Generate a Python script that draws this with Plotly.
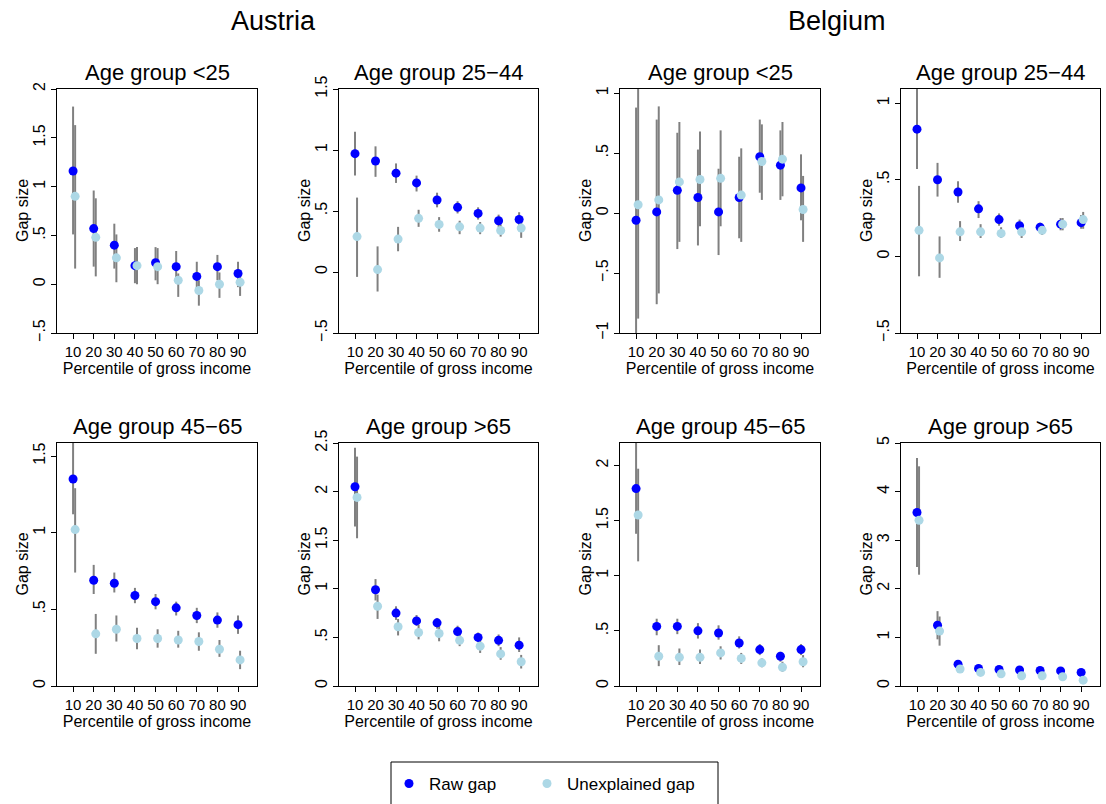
import plotly.graph_objects as go

percentiles = [10, 20, 30, 40, 50, 60, 70, 80, 90]
countries = ["Austria", "Belgium"]
age_groups = ["Age group <25", "Age group 25\u221244", "Age group 45\u221265", "Age group >65"]
series_names = ["Raw gap", "Unexplained gap"]
x_title = "Percentile of gross income"
y_title = "Gap size"

# ---- Austria, <25
at_u25_raw = [1.16, 0.57, 0.40, 0.19, 0.22, 0.18, 0.08, 0.18, 0.11]
at_u25_raw_lo = [0.51, 0.18, 0.16, 0.01, 0.04, 0.02, -0.07, 0.04, -0.03]
at_u25_raw_hi = [1.82, 0.96, 0.62, 0.37, 0.38, 0.34, 0.23, 0.30, 0.23]
at_u25_une = [0.90, 0.48, 0.27, 0.19, 0.18, 0.04, -0.065, 0.00, 0.02]
at_u25_une_lo = [0.16, 0.08, 0.02, 0.00, 0.00, -0.13, -0.22, -0.14, -0.12]
at_u25_une_hi = [1.63, 0.88, 0.51, 0.38, 0.37, 0.11, 0.04, 0.12, 0.11]

# ---- Austria, 25-44
at_2544_raw = [0.97, 0.91, 0.81, 0.73, 0.59, 0.53, 0.48, 0.42, 0.43]
at_2544_raw_lo = [0.79, 0.78, 0.73, 0.66, 0.53, 0.48, 0.43, 0.37, 0.37]
at_2544_raw_hi = [1.15, 1.03, 0.89, 0.79, 0.65, 0.58, 0.53, 0.47, 0.49]
at_2544_une = [0.29, 0.02, 0.27, 0.44, 0.39, 0.37, 0.36, 0.34, 0.36]
at_2544_une_lo = [-0.04, -0.16, 0.17, 0.37, 0.33, 0.31, 0.31, 0.29, 0.28]
at_2544_une_hi = [0.61, 0.21, 0.37, 0.51, 0.45, 0.42, 0.41, 0.39, 0.42]

# ---- Austria, 45-65
at_4565_raw = [1.35, 0.69, 0.67, 0.59, 0.55, 0.51, 0.46, 0.43, 0.40]
at_4565_raw_lo = [1.12, 0.60, 0.61, 0.54, 0.50, 0.46, 0.41, 0.38, 0.34]
at_4565_raw_hi = [1.70, 0.79, 0.74, 0.64, 0.60, 0.55, 0.51, 0.48, 0.46]
at_4565_une = [1.02, 0.34, 0.37, 0.31, 0.31, 0.30, 0.29, 0.24, 0.17]
at_4565_une_lo = [0.74, 0.21, 0.29, 0.24, 0.25, 0.25, 0.23, 0.19, 0.11]
at_4565_une_hi = [1.29, 0.47, 0.46, 0.38, 0.37, 0.36, 0.35, 0.30, 0.23]

# ---- Austria, >65
at_o65_raw = [2.05, 0.99, 0.75, 0.67, 0.65, 0.56, 0.50, 0.47, 0.42]
at_o65_raw_lo = [1.64, 0.88, 0.68, 0.62, 0.59, 0.51, 0.45, 0.41, 0.35]
at_o65_raw_hi = [2.45, 1.10, 0.82, 0.73, 0.70, 0.62, 0.55, 0.53, 0.50]
at_o65_une = [1.94, 0.82, 0.61, 0.55, 0.54, 0.47, 0.41, 0.33, 0.25]
at_o65_une_lo = [1.52, 0.69, 0.52, 0.48, 0.46, 0.41, 0.34, 0.27, 0.18]
at_o65_une_hi = [2.36, 0.94, 0.69, 0.63, 0.62, 0.54, 0.48, 0.40, 0.32]

# ---- Belgium, <25
be_u25_raw = [-0.06, 0.01, 0.19, 0.13, 0.01, 0.13, 0.47, 0.40, 0.21]
be_u25_raw_lo = [-1.10, -0.76, -0.30, -0.27, -0.35, -0.21, 0.17, 0.11, -0.06]
be_u25_raw_hi = [0.88, 0.78, 0.67, 0.53, 0.37, 0.47, 0.78, 0.69, 0.49]
be_u25_une = [0.07, 0.11, 0.26, 0.28, 0.29, 0.15, 0.43, 0.45, 0.03]
be_u25_une_lo = [-0.88, -0.67, -0.24, -0.11, -0.11, -0.24, 0.11, 0.14, -0.24]
be_u25_une_hi = [1.10, 0.89, 0.76, 0.68, 0.69, 0.54, 0.74, 0.76, 0.31]

# ---- Belgium, 25-44
be_2544_raw = [0.83, 0.50, 0.42, 0.31, 0.24, 0.20, 0.19, 0.21, 0.22]
be_2544_raw_lo = [0.57, 0.39, 0.35, 0.25, 0.20, 0.17, 0.16, 0.17, 0.18]
be_2544_raw_hi = [1.15, 0.61, 0.49, 0.36, 0.28, 0.24, 0.22, 0.25, 0.27]
be_2544_une = [0.17, -0.01, 0.16, 0.16, 0.15, 0.16, 0.17, 0.21, 0.24]
be_2544_une_lo = [-0.13, -0.14, 0.10, 0.12, 0.12, 0.12, 0.14, 0.17, 0.18]
be_2544_une_hi = [0.46, 0.13, 0.23, 0.21, 0.19, 0.20, 0.20, 0.25, 0.29]

# ---- Belgium, 45-65
be_4565_raw = [1.79, 0.54, 0.54, 0.50, 0.48, 0.39, 0.33, 0.27, 0.33]
be_4565_raw_lo = [1.38, 0.46, 0.47, 0.43, 0.42, 0.34, 0.28, 0.22, 0.28]
be_4565_raw_hi = [2.30, 0.61, 0.61, 0.57, 0.55, 0.45, 0.38, 0.31, 0.38]
be_4565_une = [1.55, 0.27, 0.26, 0.26, 0.30, 0.25, 0.21, 0.17, 0.22]
be_4565_une_lo = [1.13, 0.18, 0.19, 0.20, 0.24, 0.20, 0.17, 0.13, 0.17]
be_4565_une_hi = [1.97, 0.37, 0.34, 0.33, 0.36, 0.30, 0.25, 0.22, 0.28]

# ---- Belgium, >65
be_o65_raw = [3.57, 1.25, 0.45, 0.36, 0.34, 0.33, 0.32, 0.31, 0.28]
be_o65_raw_lo = [2.45, 0.96, 0.40, 0.31, 0.29, 0.28, 0.27, 0.26, 0.23]
be_o65_raw_hi = [4.69, 1.54, 0.51, 0.41, 0.39, 0.38, 0.37, 0.36, 0.33]
be_o65_une = [3.41, 1.13, 0.35, 0.28, 0.25, 0.21, 0.21, 0.19, 0.12]
be_o65_une_lo = [2.29, 0.83, 0.30, 0.23, 0.20, 0.16, 0.16, 0.14, 0.07]
be_o65_une_hi = [4.52, 1.43, 0.40, 0.33, 0.30, 0.26, 0.26, 0.24, 0.17]

# y-axis tick values / labels per panel
yt_at_u25 = [-0.5, 0, 0.5, 1, 1.5, 2]
yl_at_u25 = ["\u2212.5", "0", ".5", "1", "1.5", "2"]
yt_at_2544 = [-0.5, 0, 0.5, 1, 1.5]
yl_at_2544 = ["\u2212.5", "0", ".5", "1", "1.5"]
yt_at_4565 = [0, 0.5, 1, 1.5]
yl_at_4565 = ["0", ".5", "1", "1.5"]
yt_at_o65 = [0, 0.5, 1, 1.5, 2, 2.5]
yl_at_o65 = ["0", ".5", "1", "1.5", "2", "2.5"]
yt_be_u25 = [-1, -0.5, 0, 0.5, 1]
yl_be_u25 = ["\u22121", "\u2212.5", "0", ".5", "1"]
yt_be_2544 = [-0.5, 0, 0.5, 1]
yl_be_2544 = ["\u2212.5", "0", ".5", "1"]
yt_be_4565 = [0, 0.5, 1, 1.5, 2]
yl_be_4565 = ["0", ".5", "1", "1.5", "2"]
yt_be_o65 = [0, 1, 2, 3, 4, 5]
yl_be_o65 = ["0", "1", "2", "3", "4", "5"]

# ---------------- styling / layout ----------------
W, H = 1106, 804
FONT = "Liberation Sans, Arial, sans-serif"
RAW_COLOR = "#0000ff"
UNE_COLOR = "#add8e6"
CI_COLOR = "#808080"
UNE_OFFSET = 1.0

def px(p):   # page x pixel -> paper fraction
    return p / W

def py(p):   # page y pixel -> paper fraction
    return 1 - p / H

col_left = [57, 339, 620, 901]
col_right = [257, 538, 820, 1100]
row_top = [89, 443]
row_bottom = [333, 686]
country_center = [273, 837]

panels = [
    (0, 0, 0, (at_u25_raw, at_u25_raw_lo, at_u25_raw_hi, at_u25_une, at_u25_une_lo, at_u25_une_hi), [-0.5, 2.0], yt_at_u25, yl_at_u25),
    (1, 0, 1, (at_2544_raw, at_2544_raw_lo, at_2544_raw_hi, at_2544_une, at_2544_une_lo, at_2544_une_hi), [-0.5, 1.5], yt_at_2544, yl_at_2544),
    (0, 1, 2, (at_4565_raw, at_4565_raw_lo, at_4565_raw_hi, at_4565_une, at_4565_une_lo, at_4565_une_hi), [0, 1.585], yt_at_4565, yl_at_4565),
    (1, 1, 3, (at_o65_raw, at_o65_raw_lo, at_o65_raw_hi, at_o65_une, at_o65_une_lo, at_o65_une_hi), [0, 2.5], yt_at_o65, yl_at_o65),
    (2, 0, 0, (be_u25_raw, be_u25_raw_lo, be_u25_raw_hi, be_u25_une, be_u25_une_lo, be_u25_une_hi), [-1.0, 1.035], yt_be_u25, yl_be_u25),
    (3, 0, 1, (be_2544_raw, be_2544_raw_lo, be_2544_raw_hi, be_2544_une, be_2544_une_lo, be_2544_une_hi), [-0.5, 1.092], yt_be_2544, yl_be_2544),
    (2, 1, 2, (be_4565_raw, be_4565_raw_lo, be_4565_raw_hi, be_4565_une, be_4565_une_lo, be_4565_une_hi), [0, 2.203], yt_be_4565, yl_be_4565),
    (3, 1, 3, (be_o65_raw, be_o65_raw_lo, be_o65_raw_hi, be_o65_une, be_o65_une_lo, be_o65_une_hi), [0, 5.0], yt_be_o65, yl_be_o65),
]

fig = go.Figure()
layout = dict(
    width=W, height=H,
    margin=dict(l=0, r=0, t=0, b=0, autoexpand=False),
    paper_bgcolor="white", plot_bgcolor="white",
    font=dict(family=FONT, size=16, color="black"),
    showlegend=True, hovermode=False,
    annotations=[], shapes=[],
)

def err(vals, lo, hi):
    return dict(type="data", symmetric=False,
                array=[h - v for v, h in zip(vals, hi)],
                arrayminus=[v - l for v, l in zip(vals, lo)],
                color=CI_COLOR, thickness=2, width=0)

x_une = [p + UNE_OFFSET for p in percentiles]

for i, (col, row, age, data, yr, tv, tt) in enumerate(panels):
    k = "" if i == 0 else str(i + 1)
    xa, ya = "x" + k, "y" + k
    raw, raw_lo, raw_hi, une, une_lo, une_hi = data
    # CI lines first (underneath markers)
    fig.add_trace(go.Scatter(x=percentiles, y=raw, mode="markers", marker=dict(size=9, opacity=0),
                             error_y=err(raw, raw_lo, raw_hi), xaxis=xa, yaxis=ya,
                             showlegend=False, hoverinfo="skip"))
    fig.add_trace(go.Scatter(x=x_une, y=une, mode="markers", marker=dict(size=9, opacity=0),
                             error_y=err(une, une_lo, une_hi), xaxis=xa, yaxis=ya,
                             showlegend=False, hoverinfo="skip"))
    fig.add_trace(go.Scatter(x=percentiles, y=raw, mode="markers", name=series_names[0],
                             marker=dict(size=9, color=RAW_COLOR), xaxis=xa, yaxis=ya,
                             showlegend=(i == 0), legend="legend"))
    fig.add_trace(go.Scatter(x=x_une, y=une, mode="markers", name=series_names[1],
                             marker=dict(size=9, color=UNE_COLOR), xaxis=xa, yaxis=ya,
                             showlegend=(i == 0), legend="legend2"))

    x0, x1 = px(col_left[col]), px(col_right[col])
    y0, y1 = py(row_bottom[row]), py(row_top[row])
    layout["xaxis" + k] = dict(
        domain=[x0, x1], anchor=ya, range=[2.2, 99.2], automargin=False,
        tickvals=percentiles, ticktext=[str(p) for p in percentiles],
        ticks="outside", ticklen=5, tickcolor="black", tickfont=dict(size=15),
        showline=True, linecolor="black", linewidth=1, mirror=True,
        showgrid=False, zeroline=False,
        title=dict(text=x_title, font=dict(size=16), standoff=1),
    )
    layout["yaxis" + k] = dict(
        domain=[y0, y1], anchor=xa, range=yr, automargin=False,
        tickvals=tv, ticktext=tt, tickangle=-90,
        ticks="outside", ticklen=5, tickcolor="black", tickfont=dict(size=16),
        showline=True, linecolor="black", linewidth=1, mirror=True,
        showgrid=False, zeroline=False,
    )
    # y axis title
    layout["annotations"].append(dict(
        text=y_title, x=px(col_left[col] - 35), y=(y0 + y1) / 2, xref="paper", yref="paper",
        xanchor="center", yanchor="middle", textangle=-90, showarrow=False,
        font=dict(size=16)))
    # panel title
    layout["annotations"].append(dict(
        text=age_groups[age], x=(x0 + x1) / 2, y=y1, xref="paper", yref="paper",
        xanchor="center", yanchor="bottom", yshift=2, showarrow=False,
        font=dict(size=22)))

# country headers
for c, name in enumerate(countries):
    layout["annotations"].append(dict(
        text=name, x=px(country_center[c]), y=py(21), xref="paper", yref="paper",
        xanchor="center", yanchor="middle", showarrow=False, font=dict(size=27)))

# legend frame
layout["shapes"].append(dict(type="rect", xref="paper", yref="paper",
                             x0=px(391), x1=px(718), y0=py(H + 10), y1=py(762),
                             line=dict(color="black", width=1), fillcolor="rgba(0,0,0,0)"))
leg_common = dict(orientation="h", y=py(784), xanchor="left", yanchor="middle",
                  font=dict(size=17), bgcolor="rgba(0,0,0,0)", borderwidth=0, itemclick=False)
layout["legend"] = dict(x=px(389), **leg_common)
layout["legend2"] = dict(x=px(527), **leg_common)

fig.update_layout(**layout)
# remove the default page margin so the figure fills the window exactly
fig.write_html("out.html", config={"displayModeBar": False},
               post_script="document.body.style.margin='0px';")
